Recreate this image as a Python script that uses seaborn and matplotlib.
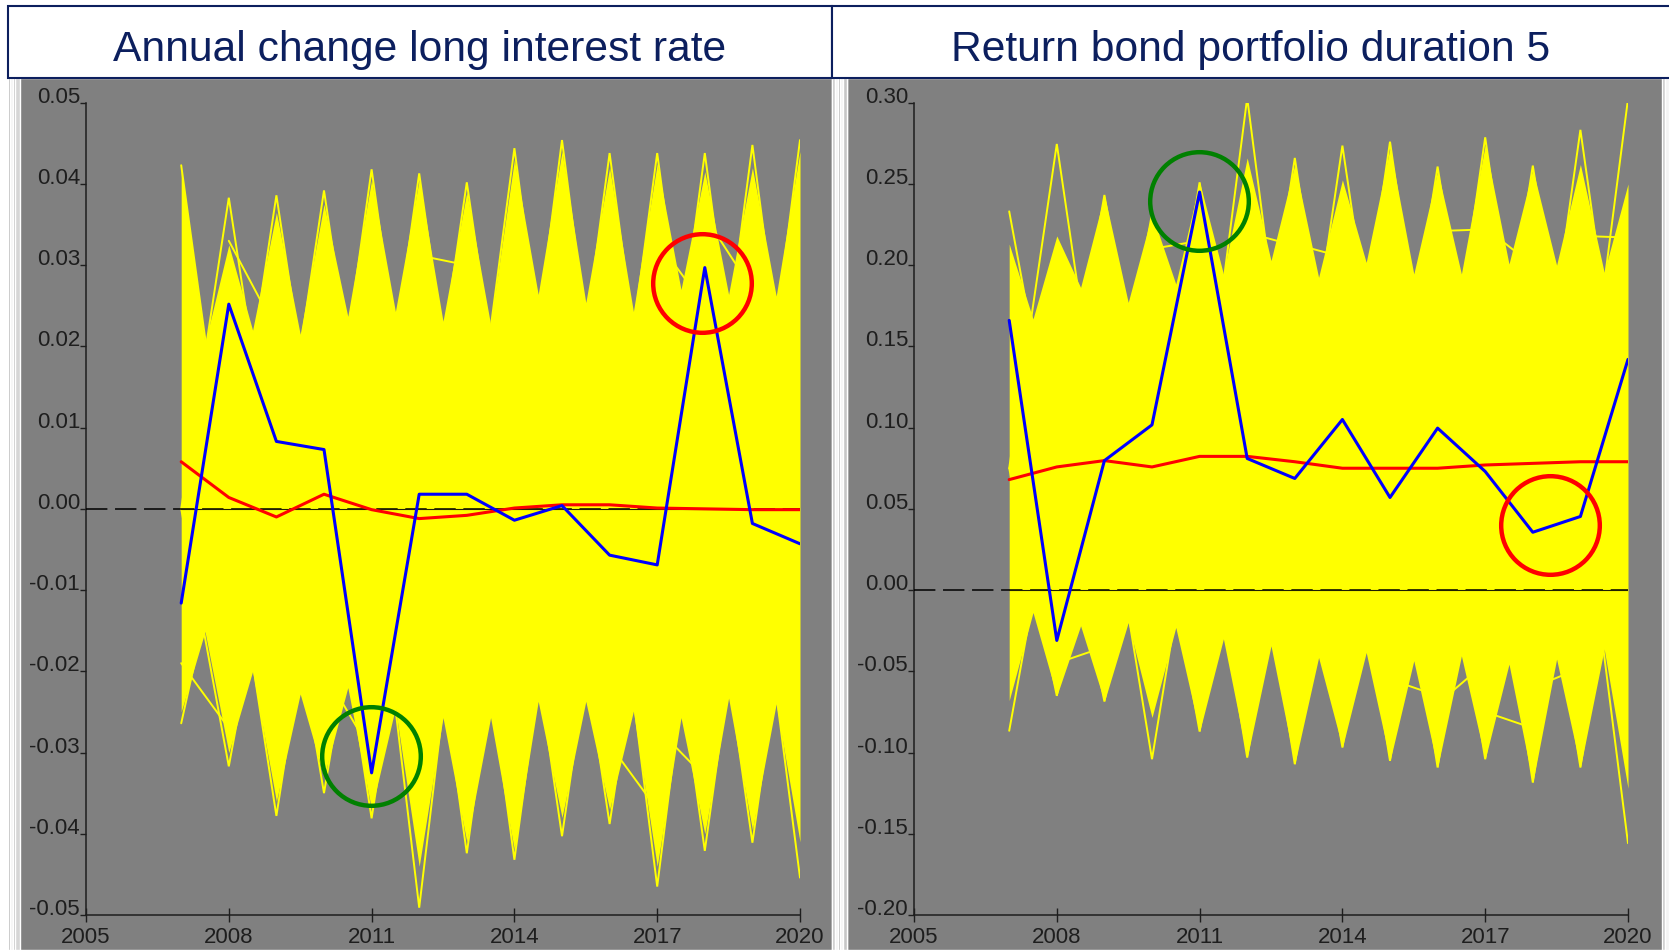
import numpy as np
import matplotlib
matplotlib.use("Agg")
import matplotlib.pyplot as plt
from matplotlib.patches import Rectangle
import seaborn as sns

# ---------------------------------------------------------------- data
years = list(range(2007, 2021))

# Annual change of the long interest rate
rate_path = [-0.0116, 0.0252, 0.0083, 0.0073, -0.0325, 0.0018, 0.0018,
             -0.0014, 0.0004, -0.0057, -0.0069, 0.0297, -0.0018, -0.0043]
rate_mean = [0.0058, 0.0014, -0.0010, 0.0018, -0.0001, -0.0012, -0.0008,
             0.0001, 0.0005, 0.0005, 0.0001, 0.0000, -0.0001, -0.0001]
rate_upper_max = [0.0423, 0.0383, 0.0386, 0.0392, 0.0418, 0.0413, 0.0402,
                  0.0444, 0.0454, 0.0438, 0.0438, 0.0438, 0.0448, 0.0454]
rate_upper_core = [0.0420, 0.0325, 0.0365, 0.0375, 0.0405, 0.0405, 0.0390,
                   0.0430, 0.0440, 0.0420, 0.0425, 0.0415, 0.0420, 0.0440]
rate_upper_trough = [0.0204, 0.0220, 0.0215, 0.0237, 0.0243, 0.0231, 0.0227,
                     0.0264, 0.0254, 0.0243, 0.0270, 0.0264, 0.0262]
rate_lower_max = [-0.0264, -0.0317, -0.0378, -0.0350, -0.0381, -0.0491, -0.0424,
                  -0.0432, -0.0403, -0.0388, -0.0465, -0.0421, -0.0411, -0.0454]
rate_lower_core = [-0.0250, -0.0300, -0.0360, -0.0330, -0.0370, -0.0440, -0.0410,
                   -0.0420, -0.0380, -0.0370, -0.0440, -0.0400, -0.0395, -0.0410]
rate_lower_trough = [-0.0151, -0.0200, -0.0228, -0.0220, -0.0245, -0.0257, -0.0257,
                     -0.0237, -0.0237, -0.0249, -0.0257, -0.0233, -0.0240]
# individual scenario segments that stand out of the fan: (from year, value, value a year later)
rate_strands = [(2008, 0.0330, 0.0220), (2012, 0.0312, 0.0300), (2017, 0.0330, 0.0250),
                (2018, 0.0360, 0.0270), (2010, -0.0200, -0.0300), (2016, -0.0290, -0.0370),
                (2017, -0.0270, -0.0330), (2007, -0.0190, -0.0270)]
rate_ticks = [-0.05, -0.04, -0.03, -0.02, -0.01, 0.00, 0.01, 0.02, 0.03, 0.04, 0.05]
rate_marks = [(2017.94, 0.0278, "red"), (2010.99, -0.0304, "green")]

# Return of a bond portfolio with duration 5
ret_path = [0.166, -0.031, 0.0797, 0.1017, 0.245, 0.081, 0.0687,
            0.105, 0.057, 0.0997, 0.073, 0.0356, 0.0453, 0.142]
ret_mean = [0.068, 0.0758, 0.0797, 0.0758, 0.0823, 0.0823, 0.079,
            0.075, 0.075, 0.075, 0.077, 0.078, 0.079, 0.079]
ret_upper_max = [0.2331, 0.2746, 0.2432, 0.2315, 0.251, 0.303, 0.266,
                 0.2736, 0.276, 0.2607, 0.2787, 0.2613, 0.2833, 0.3023]
ret_upper_core = [0.213, 0.218, 0.2432, 0.2315, 0.251, 0.266, 0.262,
                  0.2525, 0.272, 0.258, 0.274, 0.259, 0.262, 0.250]
ret_upper_trough = [0.1669, 0.1863, 0.1771, 0.1884, 0.1946, 0.2028, 0.1925,
                    0.2017, 0.1946, 0.1946, 0.2007, 0.2000, 0.1956]
ret_lower_max = [-0.0866, -0.0651, -0.0686, -0.1041, -0.0871, -0.1031, -0.1072,
                 -0.0969, -0.1051, -0.1092, -0.1041, -0.1185, -0.1092, -0.1558]
ret_lower_core = [-0.068, -0.0651, -0.0686, -0.0784, -0.0871, -0.1031, -0.1072,
                  -0.0969, -0.1051, -0.1092, -0.1041, -0.1185, -0.1092, -0.1220]
ret_lower_trough = [-0.0138, -0.022, -0.020, -0.023, -0.030, -0.0343, -0.0415,
                    -0.0384, -0.0435, -0.0405, -0.0456, -0.0425, -0.0363]
ret_strands = [(2012, 0.2200, 0.2120), (2013, 0.2130, 0.2050), (2016, 0.2210, 0.2220),
               (2017, 0.2230, 0.2000), (2019, 0.2180, 0.2170), (2010, 0.2100, 0.2150),
               (2008, -0.0450, -0.0350), (2016, -0.0700, -0.0450), (2018, -0.0600, -0.0480),
               (2017, -0.0750, -0.0850), (2015, -0.0550, -0.0650)]
ret_ticks = [-0.20, -0.15, -0.10, -0.05, 0.00, 0.05, 0.10, 0.15, 0.20, 0.25, 0.30]
ret_marks = [(2010.99, 0.2397, "green"), (2018.37, 0.0402, "red")]

year_ticks = [2005, 2008, 2011, 2014, 2017, 2020]
titles = ["Annual change long interest rate", "Return bond portfolio duration 5"]

# ---------------------------------------------------------------- style
sns.set_style("ticks")
plt.rcParams["font.family"] = ["Liberation Sans", "DejaVu Sans"]

W, H = 1669, 950
fig = plt.figure(figsize=(W / 100, H / 100), dpi=100)
fig.patch.set_facecolor("white")

NAVY = "#0c1f5e"
GREY = "#808080"
YELLOW = "#ffff00"
INK = "#1e1e1e"


def px_rect(x0, y0, x1, y1, color, z=-5, **kw):
    """Rectangle given in pixel coordinates measured from the top-left corner."""
    r = Rectangle((x0 / W, 1 - y1 / H), (x1 - x0) / W, (y1 - y0) / H,
                  transform=fig.transFigure, facecolor=color, zorder=z, **kw)
    fig.patches.append(r)
    return r


# window-like panel backgrounds and frames
px_rect(10, 78, 832, 950, GREY)
px_rect(847, 78, 1669, 950, GREY)
for x0, x1, c in [(8, 9.5, "#9a9a9a"), (9.5, 13, "#f4f4f4"), (13, 14.5, "#a8a8a8"),
                  (14.5, 20, "#d6d6d6"),
                  (832, 835, "#c6c6c6"), (835, 838, "#f4f4f4"), (838, 840, "#9a9a9a"),
                  (840, 843, "#f4f4f4"), (843, 847, "#c6c6c6"),
                  (1662, 1665, "#c6c6c6"), (1665, 1669, "#f4f4f4")]:
    px_rect(x0, 78, x1, 950, c)

# title boxes
for (x0, x1), title in zip([(8, 832), (832, 1672)], titles):
    px_rect(x0, 6, x1, 78, "white", z=2, edgecolor=NAVY, linewidth=1.5)
    fig.text((x0 + min(x1, W)) / 2 / W, 1 - 60.5 / H, title, ha="center", va="baseline",
             fontsize=30.7, color=NAVY, zorder=3)


def envelope(core, trough):
    xs, ys = [], []
    for i, yr in enumerate(years):
        xs.append(yr)
        ys.append(core[i])
        if i < len(trough):
            xs.append(yr + 0.5)
            ys.append(trough[i])
    return np.array(xs), np.array(ys)


def draw_panel(ax, path, mean, up_max, up_core, up_tr, lo_max, lo_core, lo_tr,
               strands, yticks, marks, centre):
    ax.set_facecolor("none")
    ax.set_xlim(2005, 2020)
    ax.set_ylim(yticks[0], yticks[-1])

    # simulated scenario fan
    xu, yu = envelope(up_core, up_tr)
    xl, yl = envelope(lo_core, lo_tr)
    ax.fill_between(xu, yl, yu, color=YELLOW, lw=0, zorder=1)
    for i, yr in enumerate(years):
        for tip in (up_max[i], lo_max[i]):
            xs = [yr]
            ys = [tip]
            if i > 0:
                xs.insert(0, yr - 1)
                ys.insert(0, centre)
            if i < len(years) - 1:
                xs.append(yr + 1)
                ys.append(centre)
            ax.plot(xs, ys, color=YELLOW, lw=1.4, zorder=1.5, solid_joinstyle="miter")
    for yr, v0, v1 in strands:
        ax.plot([yr, yr + 1], [v0, v1], color=YELLOW, lw=1.4, zorder=1.5)

    # zero reference
    ax.plot([2005, 2020], [0, 0], color="black", lw=1.1, ls=(0, (14, 5)), zorder=3)
    ax.plot([years[0], years[-1]], [0, 0], color="#202000", lw=0.8, zorder=3)

    # mean and one scenario
    sns.lineplot(x=years, y=mean, ax=ax, color="#ff0000", lw=2.2, zorder=4)
    sns.lineplot(x=years, y=path, ax=ax, color="#0000ff", lw=2.2, zorder=5)

    # highlighted points
    for x, y, c in marks:
        ax.plot([x], [y], marker="o", ms=71, mfc="none", mec=c, mew=3.2,
                zorder=6, clip_on=False)

    ax.set_xticks(year_ticks)
    ax.set_xticklabels([str(t) for t in year_ticks])
    ax.set_yticks(yticks)
    ax.set_yticklabels([f"{t:.2f}" for t in yticks])
    for lbl in ax.get_yticklabels():
        lbl.set_verticalalignment("baseline")
    ax.tick_params(axis="y", direction="out", length=4.3, width=1.0, pad=0,
                   labelsize=16, colors=INK)
    ax.tick_params(axis="x", direction="inout", length=9.4, width=1.0, pad=4,
                   labelsize=16, colors=INK)
    for side in ("top", "right"):
        ax.spines[side].set_visible(False)
    for side in ("left", "bottom"):
        ax.spines[side].set_color(INK)
        ax.spines[side].set_linewidth(1.1)
    ax.set_xlabel("")
    ax.set_ylabel("")
    ax.grid(False)


ax_bottom = (H - 915) / H
ax_height = (915 - 102.7) / H
ax1 = fig.add_axes([86 / W, ax_bottom, 714 / W, ax_height])
ax2 = fig.add_axes([914 / W, ax_bottom, 714 / W, ax_height])

draw_panel(ax1, rate_path, rate_mean, rate_upper_max, rate_upper_core, rate_upper_trough,
           rate_lower_max, rate_lower_core, rate_lower_trough, rate_strands,
           rate_ticks, rate_marks, 0.0)
draw_panel(ax2, ret_path, ret_mean, ret_upper_max, ret_upper_core, ret_upper_trough,
           ret_lower_max, ret_lower_core, ret_lower_trough, ret_strands,
           ret_ticks, ret_marks, 0.075)

fig.savefig("out.png", dpi=100, facecolor="white")
